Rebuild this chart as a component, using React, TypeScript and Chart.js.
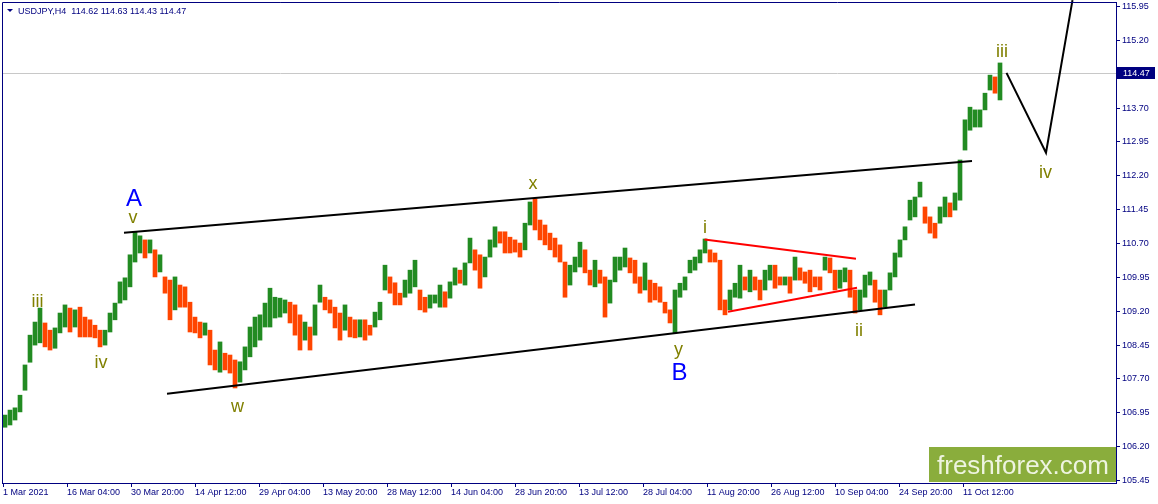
import React, { useEffect, useRef } from "react";
import { Chart, registerables } from "chart.js";

Chart.register(...registerables);

// ---------- data ----------
const SYMBOL = "USDJPY,H4";
const LAST_OHLC = [114.62, 114.63, 114.43, 114.47];
const BID = 114.47;

const DATE_LABELS = [
  "1 Mar 2021", "16 Mar 04:00", "30 Mar 20:00", "14 Apr 12:00", "29 Apr 04:00",
  "13 May 20:00", "28 May 12:00", "14 Jun 04:00", "28 Jun 20:00", "13 Jul 12:00",
  "28 Jul 04:00", "11 Aug 20:00", "26 Aug 12:00", "10 Sep 04:00", "24 Sep 20:00",
  "11 Oct 12:00",
];
const DATE_TICK_START = -0.4;
const DATE_TICK_STEP = 12.8;

const PRICE_TICKS = [
  105.45, 106.2, 106.95, 107.7, 108.45, 109.2, 109.95, 110.7, 111.45, 112.2,
  112.95, 113.7, 115.2, 115.95,
];

const HIGHS = [
  106.90, 107.01, 107.06, 107.34, 108.01, 108.67, 108.96, 109.27, 108.94, 108.78,
  108.83, 109.16, 109.34, 109.27, 109.23, 109.29, 109.07, 109.01, 108.89, 108.78,
  108.78, 109.16, 109.38, 109.85, 109.94, 110.45, 110.96, 110.87, 110.78, 110.78,
  110.56, 110.45, 109.96, 109.89, 109.96, 109.78, 109.74, 109.40, 109.07, 108.96,
  108.94, 108.78, 108.34, 108.52, 108.27, 108.23, 108.12, 108.08, 108.41, 108.85,
  109.07, 109.12, 109.38, 109.71, 109.51, 109.49, 109.45, 109.40, 109.34, 109.12,
  108.96, 108.85, 109.34, 109.78, 109.51, 109.45, 109.29, 109.16, 109.34, 109.07,
  109.01, 109.01, 109.01, 108.89, 109.18, 109.40, 110.22, 109.96, 109.83, 109.60,
  109.89, 110.11, 110.33, 109.67, 109.51, 109.56, 109.56, 109.78, 109.63, 109.85,
  110.16, 110.11, 110.27, 110.82, 110.56, 110.45, 110.40, 110.78, 111.07, 110.96,
  110.96, 110.84, 110.78, 110.71, 111.15, 111.62, 111.69, 111.22, 111.11, 110.93,
  110.82, 110.67, 110.29, 110.22, 110.40, 110.73, 110.56, 110.11, 110.33, 110.11,
  109.96, 109.89, 110.40, 110.40, 110.60, 110.38, 110.33, 109.96, 110.27, 109.89,
  109.82, 109.74, 109.40, 109.23, 109.67, 109.82, 109.96, 110.33, 110.40, 110.56,
  110.80, 110.56, 110.49, 110.33, 109.45, 109.67, 109.82, 110.22, 109.96, 110.11,
  109.96, 109.89, 110.11, 110.22, 110.22, 109.96, 109.96, 109.96, 110.40, 110.16,
  110.07, 110.11, 109.96, 109.96, 110.40, 110.38, 110.11, 110.11, 110.16, 110.11,
  109.67, 109.67, 110.00, 110.07, 109.89, 109.67, 109.67, 110.05, 110.49, 110.78,
  111.07, 111.66, 111.73, 112.06, 111.51, 111.29, 111.15, 111.51, 111.73, 111.60,
  111.82, 112.55, 113.44, 113.72, 113.66, 113.66, 114.03, 114.43, 114.39, 114.70,
];

const LOWS = [
  106.63, 106.68, 106.79, 106.97, 107.45, 108.07, 108.45, 108.50, 108.41, 108.34,
  108.38, 108.72, 108.85, 108.74, 108.85, 108.63, 108.63, 108.63, 108.61, 108.41,
  108.45, 108.74, 109.01, 109.38, 109.45, 109.74, 110.29, 110.49, 110.38, 110.49,
  109.96, 110.07, 109.60, 109.01, 109.23, 109.29, 109.29, 108.74, 108.72, 108.61,
  108.67, 108.01, 107.90, 107.85, 107.90, 107.83, 107.50, 107.63, 107.90, 108.19,
  108.41, 108.56, 108.85, 108.85, 109.05, 109.07, 109.16, 108.94, 108.67, 108.34,
  108.56, 108.34, 108.67, 109.40, 109.23, 109.16, 108.83, 108.56, 108.78, 108.63,
  108.61, 108.63, 108.56, 108.67, 108.85, 109.01, 109.67, 109.60, 109.34, 109.34,
  109.51, 109.60, 109.74, 109.23, 109.18, 109.27, 109.38, 109.29, 109.29, 109.49,
  109.78, 109.82, 109.78, 110.27, 110.11, 109.71, 109.96, 110.40, 110.62, 110.71,
  110.49, 110.49, 110.51, 110.40, 110.56, 111.11, 111.00, 110.78, 110.67, 110.56,
  110.40, 110.29, 109.51, 109.78, 110.07, 110.18, 110.05, 109.78, 109.74, 109.82,
  109.07, 109.38, 109.85, 110.11, 110.18, 110.05, 109.82, 109.60, 109.67, 109.40,
  109.45, 109.40, 109.16, 108.94, 108.72, 109.51, 109.67, 110.05, 110.11, 110.27,
  110.49, 110.29, 110.29, 109.23, 109.12, 109.23, 109.51, 109.49, 109.67, 109.63,
  109.67, 109.45, 109.67, 109.89, 109.71, 109.78, 109.78, 109.60, 109.89, 109.89,
  109.82, 109.63, 109.74, 109.67, 110.11, 110.05, 109.67, 109.71, 109.85, 109.51,
  109.16, 109.23, 109.51, 109.78, 109.40, 109.12, 109.29, 109.67, 109.96, 110.40,
  110.78, 111.22, 111.29, 111.73, 111.15, 110.93, 110.82, 111.15, 111.29, 111.29,
  111.44, 111.66, 112.77, 113.21, 113.28, 113.28, 113.66, 114.10, 114.03, 113.88,
];

const UPPER_CHANNEL = [{ x: 23.8, y: 110.94 }, { x: 193.4, y: 112.53 }];
const LOWER_CHANNEL = [{ x: 32.4, y: 107.37 }, { x: 182.0, y: 109.35 }];
const TRIANGLE_UPPER = [{ x: 139.9, y: 110.79 }, { x: 170.2, y: 110.36 }];
const TRIANGLE_LOWER = [{ x: 144.6, y: 109.19 }, { x: 170.4, y: 109.72 }];
const PROJECTION = [
  { x: 200.3, y: 114.48 },
  { x: 208.2, y: 112.71 },
  { x: 213.5, y: 116.09 },
];

const WAVE_TEXT = ["iii", "iv", "v", "A", "w", "x", "y", "B", "i", "ii", "iii", "iv"];
const WAVE_X = [6.5, 19.2, 25.6, 25.8, 46.5, 105.6, 134.7, 134.9, 140.0, 170.8, 199.4, 208.1];
const WAVE_Y = [109.29, 107.94, 111.15, 111.53, 106.97, 111.91, 108.24, 107.68, 110.93, 108.65, 114.83, 112.15];
const WAVE_BIG = [false, false, false, true, false, false, false, true, false, false, false, false];

// ---------- styles ----------
const NAVY = "#000080";
const UP = "#228B22";
const DOWN = "#FF4500";
const OLIVE = "#808000";
const FONT = '"Liberation Sans", Arial, sans-serif';

const overlayPlugin = {
  id: "mt4overlay",
  beforeDatasetsDraw(chart: any) {
    const { ctx, chartArea, scales } = chart;
    const y = Math.round(scales.y.getPixelForValue(BID)) + 0.5;
    ctx.save();
    ctx.strokeStyle = "#c8c8c8";
    ctx.lineWidth = 1;
    ctx.beginPath();
    ctx.moveTo(chartArea.left, y);
    ctx.lineTo(chartArea.right, y);
    ctx.stroke();
    ctx.restore();
  },
  afterDatasetsDraw(chart: any) {
    const { ctx, scales } = chart;
    ctx.save();
    ctx.textAlign = "center";
    ctx.textBaseline = "alphabetic";
    for (let i = 0; i < WAVE_TEXT.length; i++) {
      const px = scales.x.getPixelForValue(WAVE_X[i]);
      const py = scales.y.getPixelForValue(WAVE_Y[i]);
      ctx.font = (WAVE_BIG[i] ? "24px " : "18px ") + FONT;
      ctx.fillStyle = WAVE_BIG[i] ? "#0000FF" : OLIVE;
      ctx.fillText(WAVE_TEXT[i], px, py);
    }
    ctx.restore();
  },
  afterDraw(chart: any) {
    const { ctx, chartArea, scales } = chart;
    ctx.save();
    // frame (left / top)
    ctx.strokeStyle = NAVY;
    ctx.lineWidth = 1;
    ctx.beginPath();
    ctx.moveTo(chartArea.left + 0.5, chartArea.bottom);
    ctx.lineTo(chartArea.left + 0.5, chartArea.top + 0.5);
    ctx.lineTo(chartArea.right, chartArea.top + 0.5);
    ctx.stroke();

    // header
    ctx.fillStyle = NAVY;
    ctx.beginPath();
    ctx.moveTo(chartArea.left + 5, chartArea.top + 7);
    ctx.lineTo(chartArea.left + 11, chartArea.top + 7);
    ctx.lineTo(chartArea.left + 8, chartArea.top + 10);
    ctx.closePath();
    ctx.fill();
    ctx.font = "9px " + FONT;
    ctx.textAlign = "left";
    ctx.textBaseline = "alphabetic";
    ctx.fillText(
      SYMBOL + "  " + LAST_OHLC.map((v) => v.toFixed(2)).join(" "),
      chartArea.left + 16,
      chartArea.top + 12
    );

    // bid label on price axis
    const by = Math.round(scales.y.getPixelForValue(BID));
    ctx.fillStyle = NAVY;
    ctx.fillRect(chartArea.right + 1, by - 6, 38, 12);
    ctx.fillStyle = "#ffffff";
    ctx.textBaseline = "middle";
    ctx.fillText(BID.toFixed(2), chartArea.right + 7, by + 0.5);

    // watermark logo
    const lw = 187;
    const lh = 35;
    const lx = chartArea.right - lw;
    const ly = chartArea.bottom - 1 - lh;
    ctx.fillStyle = "#8aad3c";
    ctx.fillRect(lx, ly, lw, lh);
    ctx.fillStyle = "#eef4e0";
    ctx.font = "26px " + FONT;
    ctx.textBaseline = "alphabetic";
    ctx.fillText("freshforex.com", lx + 8, ly + 27);
    ctx.restore();
  },
};

export default function App() {
  const ref = useRef<HTMLCanvasElement | null>(null);

  useEffect(() => {
    document.body.style.margin = "0";
    const canvas = ref.current;
    if (!canvas) return;

    const bars = HIGHS.map((h, i) => ({ x: i, y: [LOWS[i], h] }));
    const colors = HIGHS.map((h, i) => {
      const mid = (h + LOWS[i]) / 2;
      const prev = i > 0 ? (HIGHS[i - 1] + LOWS[i - 1]) / 2 : mid - 1;
      return mid >= prev ? UP : DOWN;
    });

    const lineDs = (data: any[], color: string, clip: any = 0) => ({
      type: "line" as const,
      data,
      borderColor: color,
      borderWidth: 2,
      pointRadius: 0,
      tension: 0,
      fill: false,
      order: 0,
      clip,
    });

    const chart = new Chart(canvas, {
      type: "bar",
      data: {
        datasets: [
          {
            type: "bar",
            data: bars as any,
            backgroundColor: colors,
            borderWidth: 0,
            barThickness: 4,
            order: 1,
          } as any,
          lineDs(UPPER_CHANNEL, "#000000"),
          lineDs(LOWER_CHANNEL, "#000000"),
          lineDs(TRIANGLE_UPPER, "#FF0000"),
          lineDs(TRIANGLE_LOWER, "#FF0000"),
          lineDs(PROJECTION, "#000000", false),
        ],
      },
      options: {
        responsive: false,
        animation: false,
        events: [],
        layout: { padding: { left: 2, top: 2, right: 0, bottom: 0 } },
        plugins: { legend: { display: false }, tooltip: { enabled: false } },
        scales: {
          x: {
            type: "linear",
            position: "bottom",
            min: -0.6,
            max: 222.2,
            offset: false,
            grid: {
              display: true,
              offset: false,
              drawOnChartArea: false,
              drawTicks: true,
              tickLength: 4,
              color: NAVY,
            },
            border: { display: true, color: NAVY, width: 1 },
            ticks: {
              autoSkip: false,
              maxRotation: 0,
              minRotation: 0,
              align: "start",
              padding: 0,
              color: NAVY,
              font: { size: 9, family: FONT },
              callback: (_v: any, i: number) => DATE_LABELS[i] ?? "",
            },
            afterBuildTicks: (s: any) => {
              s.ticks = DATE_LABELS.map((_, k) => ({ value: DATE_TICK_START + DATE_TICK_STEP * k }));
            },
            afterFit: (s: any) => {
              s.height = 21;
              s.paddingLeft = 0;
              s.paddingRight = 0;
            },
          },
          y: {
            type: "linear",
            position: "right",
            min: 105.395,
            max: 116.05,
            beginAtZero: false,
            grid: {
              display: true,
              drawOnChartArea: false,
              drawTicks: true,
              tickLength: 4,
              color: NAVY,
            },
            border: { display: true, color: NAVY, width: 1 },
            ticks: {
              padding: 2,
              color: NAVY,
              font: { size: 9, family: FONT },
              callback: (v: any) => Number(v).toFixed(2),
            },
            afterBuildTicks: (s: any) => {
              s.ticks = PRICE_TICKS.map((v) => ({ value: v }));
            },
            afterFit: (s: any) => {
              s.width = 42;
              s.paddingTop = 0;
              s.paddingBottom = 0;
            },
          },
        },
      } as any,
      plugins: [overlayPlugin],
    });

    return () => chart.destroy();
  }, []);

  return (
    <div style={{ width: 1158, height: 504, background: "#ffffff" }}>
      <canvas ref={ref} width={1158} height={504} style={{ display: "block" }} />
    </div>
  );
}
